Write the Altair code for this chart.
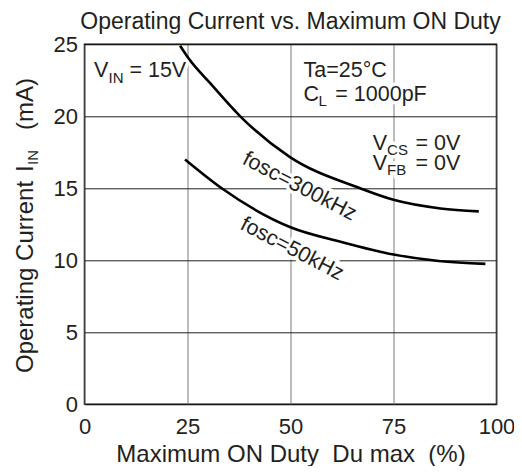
import altair as alt
import pandas as pd

# ---- data ----
duty_300k = [23.2, 25.2, 30.5, 37.8, 49.7, 66.9, 75.0, 86.4, 95.7]
cur_300k = [24.9, 24.05, 22.3, 20.0, 17.2, 15.0, 14.2, 13.6, 13.4]
duty_50k = [24.4, 33.3, 50.0, 62.0, 75.0, 86.0, 97.3]
cur_50k = [17.0, 15.0, 12.3, 11.3, 10.4, 9.95, 9.75]
x_ticks = [0, 25, 50, 75, 100]
y_ticks = [0, 5, 10, 15, 20, 25]

FONT = "Liberation Sans"
INK = "#231f20"

curves = pd.concat([
    pd.DataFrame({"duty": duty_300k, "cur": cur_300k, "series": "300kHz"}),
    pd.DataFrame({"duty": duty_50k, "cur": cur_50k, "series": "50kHz"}),
])

# annotation texts (data coordinates)
ann_text = ["V", "IN", "= 15V", "Ta=25°C", "C", "L", "= 1000pF",
            "V", "CS", "= 0V", "V", "FB", "= 0V"]
ann_x = [2.31, 5.83, 10.9, 53.17, 53.17, 56.82, 60.87,
         69.94, 73.44, 80.32, 69.94, 73.44, 80.32]
ann_y = [22.71, 22.33, 22.71, 22.71, 21.08, 20.74, 21.08,
         17.66, 17.31, 17.66, 16.27, 15.92, 16.27]
ann_fs = [21.5, 15, 21.5, 21.5, 21.5, 15, 21.5,
          21.5, 15, 21.5, 21.5, 15, 21.5]
ann = pd.DataFrame({"t": ann_text, "x": ann_x, "y": ann_y, "fs": ann_fs})

rot_text = ["fosc=300kHz", "fosc=50kHz"]
rot_x = [52.15, 50.35]
rot_y = [15.11, 10.77]
rot = pd.DataFrame({"t": rot_text, "x": rot_x, "y": rot_y})

xs = alt.Scale(domain=[0, 100], nice=False)
ys = alt.Scale(domain=[0, 25], nice=False)

xaxis = alt.Axis(values=x_ticks, title="Maximum ON Duty\u00a0\u00a0Du max\u00a0\u00a0(%)",
                 grid=True, gridColor="#7a7a7a", gridWidth=1, ticks=False, tickSize=0,
                 domain=False, labelFontSize=22, labelPadding=12, labelFont=FONT,
                 labelFlush=False, labelColor=INK, titleFont=FONT, titleFontSize=24,
                 titleFontWeight="normal", titleColor=INK, titlePadding=5)
yaxis = alt.Axis(values=y_ticks, title=None, grid=True, gridColor="#222222", gridWidth=1,
                 ticks=False, tickSize=0, domain=False, labelFontSize=22, labelPadding=7,
                 labelFlush=False, labelFont=FONT, labelColor=INK)

base = alt.Chart(curves).encode(
    x=alt.X("duty:Q", scale=xs, axis=xaxis),
    y=alt.Y("cur:Q", scale=ys, axis=yaxis),
)
lines = base.mark_line(color="black", strokeWidth=2.6, interpolate="monotone").encode(
    detail="series:N")

ann_enc = dict(x=alt.X("x:Q", scale=xs), y=alt.Y("y:Q", scale=ys), text="t:N",
               size=alt.Size("fs:Q", scale=None, legend=None))
halo = alt.Chart(ann).mark_text(align="left", baseline="alphabetic", font=FONT,
                                stroke="white", strokeWidth=7, color="white").encode(**ann_enc)
ann_layer = alt.Chart(ann).mark_text(align="left", baseline="alphabetic", font=FONT,
                                     color=INK).encode(**ann_enc)

rot_enc = dict(x=alt.X("x:Q", scale=xs), y=alt.Y("y:Q", scale=ys), text="t:N")
rot_halo = alt.Chart(rot).mark_text(align="center", baseline="middle", font=FONT, fontSize=21.5,
                                    angle=27.5, stroke="white", strokeWidth=7,
                                    color="white").encode(**rot_enc)
rot_layer = alt.Chart(rot).mark_text(align="center", baseline="middle", font=FONT, fontSize=21.5,
                                     angle=27.5, color=INK).encode(**rot_enc)


# y-axis title pieces (with subscript), rotated
def ytext(txt, size, xpix, ypix):
    return alt.Chart(pd.DataFrame({"t": [txt]})).mark_text(
        align="left", baseline="alphabetic", angle=270, font=FONT, fontSize=size, color=INK
    ).encode(text="t:N", x=alt.value(xpix), y=alt.value(ypix))


ytitle = [
    ytext("Operating Current", 24, -51.5, 328.7),
    ytext("I", 24, -51.5, 127.7),
    ytext("IN", 15, -46.5, 120.7),
    ytext("(mA)", 24, -51.5, 85.7),
]
title = alt.Chart(pd.DataFrame({"t": ["Operating Current vs. Maximum ON Duty"]})).mark_text(
    align="center", baseline="alphabetic", font=FONT, fontSize=23, color=INK
).encode(text="t:N", x=alt.value(206), y=alt.value(-15.5))

chart = alt.layer(
    halo, rot_halo, lines, ann_layer, rot_layer, *ytitle, title
).properties(
    width=412, height=360,
    autosize=alt.AutoSizeParams(type="none"),
    padding={"left": 76.5, "top": 36.3, "right": 17.5, "bottom": 61.7},
).configure_view(stroke="black", strokeWidth=1.5)

chart.save("out.html", embed_options={"renderer": "svg", "actions": False})
